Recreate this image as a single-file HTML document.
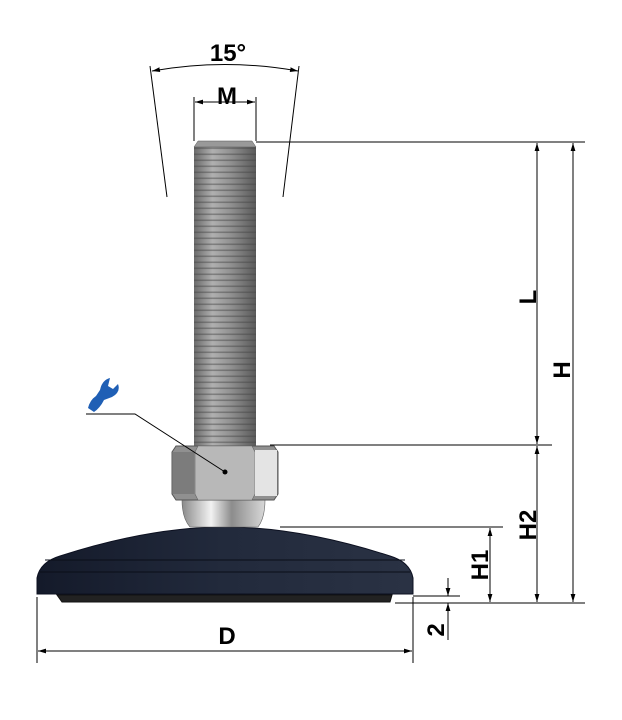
<!DOCTYPE html>
<html><head><meta charset="utf-8"><style>html,body{margin:0;padding:0;background:#fff;}svg{display:block}</style></head>
<body>
<svg width="622" height="720" viewBox="0 0 622 720" xmlns="http://www.w3.org/2000/svg" font-family="Liberation Sans, sans-serif" font-weight="bold">
<defs>
<marker id="a" viewBox="0 0 10 10" refX="10" refY="5" markerWidth="8" markerHeight="8" orient="auto-start-reverse"><path d="M0,2 L10,5 L0,8 z" fill="#000"/></marker>
<linearGradient id="th" x1="0" x2="1"><stop offset="0" stop-color="#6a6a6a"/><stop offset=".3" stop-color="#b0b0b0"/><stop offset=".6" stop-color="#909090"/><stop offset="1" stop-color="#5a5a5a"/></linearGradient>
<pattern id="thr" width="6" height="6" patternUnits="userSpaceOnUse"><rect y="3.5" width="6" height="1.6" fill="#444" opacity=".45"/></pattern>
<linearGradient id="ball" x1="0" x2="1"><stop offset="0" stop-color="#8a8a8a"/><stop offset=".35" stop-color="#f2f2f2"/><stop offset=".6" stop-color="#8c8c8c"/><stop offset="1" stop-color="#d8d8d8"/></linearGradient>
<linearGradient id="base" x1="0" x2="1"><stop offset="0" stop-color="#141a2a"/><stop offset=".5" stop-color="#222a3c"/><stop offset="1" stop-color="#2a3244"/></linearGradient>
</defs>
<g stroke="#000" stroke-width="1" fill="none">
<path d="M152,71 Q225,58 298,71" marker-start="url(#a)" marker-end="url(#a)"/>
<line x1="150" y1="66" x2="167" y2="197"/>
<line x1="299" y1="66" x2="283" y2="197"/>
<line x1="194" y1="97" x2="194" y2="141"/>
<line x1="256" y1="97" x2="256" y2="141"/>
<line x1="195" y1="102" x2="255" y2="102" marker-start="url(#a)" marker-end="url(#a)"/>
<line x1="256" y1="142" x2="585" y2="142"/>
<line x1="270" y1="445" x2="552" y2="445"/>
<line x1="280" y1="527" x2="503" y2="527"/>
<line x1="413" y1="596" x2="460" y2="596"/>
<line x1="395" y1="603" x2="585" y2="603"/>
<line x1="537" y1="143" x2="537" y2="444" marker-start="url(#a)" marker-end="url(#a)"/>
<line x1="537" y1="446" x2="537" y2="602" marker-start="url(#a)" marker-end="url(#a)"/>
<line x1="573" y1="143" x2="573" y2="602" marker-start="url(#a)" marker-end="url(#a)"/>
<line x1="490" y1="528" x2="490" y2="602" marker-start="url(#a)" marker-end="url(#a)"/>
<line x1="448" y1="578" x2="448" y2="596" marker-end="url(#a)"/>
<line x1="448" y1="640" x2="448" y2="603" marker-end="url(#a)"/>
<line x1="37" y1="597" x2="37" y2="663"/>
<line x1="413" y1="597" x2="413" y2="663"/>
<line x1="38" y1="651" x2="412" y2="651" marker-start="url(#a)" marker-end="url(#a)"/>
</g>
<rect x="194" y="147" width="62" height="300" fill="url(#th)"/>
<rect x="194" y="147" width="62" height="300" fill="url(#thr)"/>
<path d="M198,141 L252,141 L256,147 L194,147 Z" fill="#999" stroke="#555" stroke-width=".5"/>
<path d="M57,595 L392,595 L390,602 L62,602 Z" fill="#222" stroke="#111"/>
<path d="M37,594 L37,578 Q40,562 60,556 Q150,527 225,527 Q300,527 390,556 Q410,562 413,578 L413,594 Z" fill="url(#base)" stroke="#0c1020"/>
<line x1="45" y1="560" x2="405" y2="560" stroke="#0a0e18"/>
<line x1="40" y1="572" x2="410" y2="572" stroke="#0a0e18"/>
<path d="M182,500 L265,500 Q265,518 258,527 L190,527 Q182,518 182,500 Z" fill="url(#ball)" stroke="#666" stroke-width=".6"/>
<path d="M172,452 L176,446 L274,446 L278,452 L278,494 L274,500 L176,500 L172,494 Z" fill="#909090" stroke="#555"/>
<path d="M198,446 L252,446 L255,452 L255,494 L252,500 L198,500 L195,494 L195,452 Z" fill="#b8b8b8" stroke="#666" stroke-width=".6"/>
<rect x="255" y="450" width="22" height="46" fill="#e4e4e4"/>
<rect x="173" y="452" width="21" height="42" fill="#7c7c7c"/>
<g stroke="#000" stroke-width="1" fill="none"><polyline points="86,414 135,414 225,472"/></g>
<circle cx="225" cy="472" r="2.5" fill="#000"/>
<path d="M88,408 Q90,400 96,396 L100,390 Q102,380 110,378 L108,386 L113,389 L118,384 Q121,392 112,397 L104,400 Q100,408 94,412 Z" fill="#1f5fb5"/>
<g font-size="24" fill="#000" text-anchor="middle">
<text x="228" y="61">15°</text>
<text x="227" y="104">M</text>
<text x="227" y="644">D</text>
<text transform="translate(536,297) rotate(-90)">L</text>
<text transform="translate(570,370) rotate(-90)">H</text>
<text transform="translate(536,525) rotate(-90)">H2</text>
<text transform="translate(488,565) rotate(-90)">H1</text>
<text transform="translate(444,630) rotate(-90)">2</text>
</g>
</svg>
</body></html>
